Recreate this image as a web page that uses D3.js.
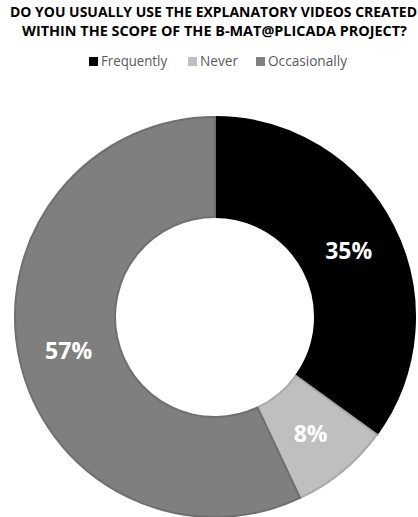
<!DOCTYPE html>
<html>
<head>
<meta charset="utf-8">
<script src="https://cdn.jsdelivr.net/npm/d3@7"></script>
<style>
  body { margin: 0; background: #fff; }
  svg { display: block; }
</style>
</head>
<body>
<div class="chart"></div>
<script>
const categories = ['Frequently', 'Never', 'Occasionally']
const values = [35, 8, 57]
const titleLines = ['DO YOU USUALLY USE THE EXPLANATORY VIDEOS CREATED', 'WITHIN THE SCOPE OF THE B-MAT@PLICADA PROJECT?']

const width = 418
const height = 517
const cx = 215, cy = 317
const outerR = 200, innerR = 100

const fills = d3.scaleOrdinal().domain(categories).range(['#000000', '#bfbfbf', '#7f7f7f'])
const strokes = d3.scaleOrdinal().domain(categories).range(['#000000', '#a8a8a8', '#6f6f6f'])

const svg = d3.select('.chart').append('svg')
  .attr('width', width)
  .attr('height', height)

// title (Calibri-ish width squeezed to match)
const titleW = [407, 385]
svg.append('g')
  .selectAll('text')
  .data(titleLines)
  .join('text')
  .attr('x', (d, i) => i == 0 ? 213.5 : 214.5)
  .attr('y', (d, i) => 17 + i * 18.5)
  .attr('text-anchor', 'middle')
  .attr('font-family', 'Open Sans, sans-serif')
  .attr('font-weight', 'bold')
  .attr('font-size', 14)
  .attr('textLength', (d, i) => titleW[i])
  .attr('lengthAdjust', 'spacingAndGlyphs')
  .attr('fill', '#000')
  .text(d => d)

// legend
const legendX = [89, 188, 256]
const legendW = [66, 38, 79]
const legend = svg.append('g')
  .selectAll('g')
  .data(categories)
  .join('g')
  .attr('transform', (d, i) => `translate(${legendX[i]},66)`)

legend.append('rect')
  .attr('x', 0).attr('y', -9)
  .attr('width', 9).attr('height', 9)
  .attr('fill', d => fills(d))

legend.append('text')
  .attr('x', 12)
  .attr('y', 0)
  .attr('font-family', 'Open Sans, sans-serif')
  .attr('font-size', 14)
  .attr('textLength', (d, i) => legendW[i])
  .attr('lengthAdjust', 'spacingAndGlyphs')
  .attr('fill', '#595959')
  .text(d => d)

// donut
const pie = d3.pie().sort(null).value(d => d.value)
const arc = d3.arc().innerRadius(innerR).outerRadius(outerR)

const slices = pie(categories.map((c, i) => ({ name: c, value: values[i] })))

const g = svg.append('g').attr('transform', `translate(${cx},${cy})`)

g.selectAll('path')
  .data(slices)
  .join('path')
  .attr('d', arc)
  .attr('fill', d => fills(d.data.name))
  .attr('stroke', d => strokes(d.data.name))
  .attr('stroke-width', 2)

g.selectAll('text')
  .data(slices)
  .join('text')
  .attr('transform', d => `translate(${arc.centroid(d)})`)
  .attr('text-anchor', 'middle')
  .attr('dy', '0.42em')
  .attr('font-family', 'Open Sans, sans-serif')
  .attr('font-weight', 'bold')
  .attr('font-size', 23)
  .attr('fill', '#fff')
  .text(d => d.data.value + '%')
</script>
</body>
</html>
